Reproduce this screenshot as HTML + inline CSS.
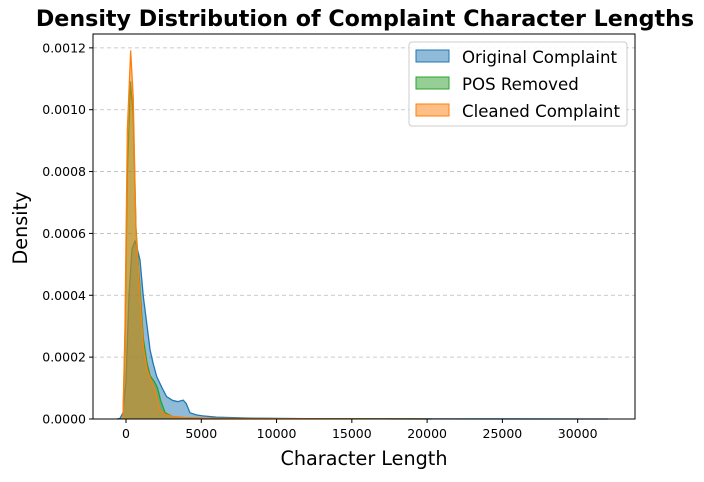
<!DOCTYPE html>
<html><head><meta charset="utf-8"><style>
body{margin:0;background:#fff;font-family:"Liberation Sans","DejaVu Sans",sans-serif}
svg text{font-family:"DejaVu Sans","Liberation Sans",sans-serif}
</style></head><body>
<svg id="chart" width="704" height="477" viewBox="0 0 704 477">
<text x="365" y="26" text-anchor="middle" font-size="22.2" font-weight="bold">Density Distribution of Complaint Character Lengths</text>
<g id="grid"></g>
<g id="series"></g>
<rect x="93" y="34" width="542" height="385" fill="none" stroke="#000" stroke-width="1"/>
<g id="xticks"></g><g id="yticks"></g>
<text x="364" y="465" text-anchor="middle" font-size="19.2">Character Length</text>
<text transform="translate(27,228) rotate(-90)" text-anchor="middle" font-size="19.2">Density</text>
<g>
<rect x="409" y="42" width="218" height="84" rx="3" fill="#fff" fill-opacity="0.85" stroke="#ccc"/>
<g><rect x="416" y="50" width="33" height="12" fill="#1f77b4" fill-opacity="0.5" stroke="#1f77b4"/><text x="462" y="63" font-size="16.6">Original Complaint</text></g>
<g><rect x="416" y="77" width="33" height="12" fill="#2ca02c" fill-opacity="0.5" stroke="#2ca02c"/><text x="462" y="90" font-size="16.6">POS Removed</text></g>
<g><rect x="416" y="104" width="33" height="12" fill="#ff7f0e" fill-opacity="0.5" stroke="#ff7f0e"/><text x="462" y="117" font-size="16.6">Cleaned Complaint</text></g>
</g>
</svg>
<script>
const xTicks=[0,5000,10000,15000,20000,25000,30000];
const yTicks=[0,0.0002,0.0004,0.0006,0.0008,0.0010,0.0012];
const yTickLabels=["0.0000","0.0002","0.0004","0.0006","0.0008","0.0010","0.0012"];
const origX=[-600,-400,-200,0,200,400,600,800,930,1150,1400,1600,1800,2040,2400,2700,3100,3450,3800,4000,4250,4700,5100,6000,8000,12000,20000,32000];
const origY=[0,0.000002,0.00002,0.00012,0.0004,0.00055,0.000576,0.00054,0.000514,0.000396,0.0003,0.000223,0.00018,0.000137,0.0001,0.000072,0.00006,0.000056,0.000061,0.00005,0.00002,0.000013,0.00001,0.000006,0.000003,0.000001,0.0000005,0];
const posX=[-300,-200,-70,90,300,480,660,930,1150,1400,1600,1900,2100,2300,2600,3100,4000,6000,10000,20300];
const posY=[0,0.000005,0.00025,0.0008,0.00109,0.00098,0.00062,0.00042,0.00026,0.00018,0.00014,0.00012,0.0001,0.00006,0.00002,0.000008,0.000004,0.000002,0.000001,0];
const cleanX=[-300,-200,-70,90,310,480,660,930,1150,1400,1600,1920,2250,2600,3100,4000,6000,10000,20000];
const cleanY=[0,0.000005,0.00029,0.000935,0.00119,0.00104,0.00061,0.000395,0.000234,0.00016,0.000132,0.000094,0.00003,0.000015,0.000008,0.000004,0.000002,0.000001,0];
const X0=-2192,X1=33808,Y0=0,Y1=0.0012448;
function sx(v){return 93+(v-X0)/(X1-X0)*542;}
function sy(v){return 419-(v-Y0)/(Y1-Y0)*385;}
const NS="http://www.w3.org/2000/svg";
const grid=document.getElementById('grid'),xt=document.getElementById('xticks'),yt=document.getElementById('yticks'),ser=document.getElementById('series');
yTicks.forEach((t,i)=>{
 if(i>0){const l=document.createElementNS(NS,'line');
 
 
 l.setAttribute('x1',93);l.setAttribute('x2',635);l.setAttribute('y1',sy(t));l.setAttribute('y2',sy(t));
 l.setAttribute('stroke','#bbb');l.setAttribute('stroke-dasharray','4,3');l.setAttribute('stroke-width','0.8');grid.appendChild(l);}
 const k=document.createElementNS(NS,'line');
 
 
 k.setAttribute('x1',89);k.setAttribute('x2',93);k.setAttribute('y1',sy(t));k.setAttribute('y2',sy(t));k.setAttribute('stroke','#000');yt.appendChild(k);
 const tx=document.createElementNS(NS,'text');
 
 
 tx.setAttribute('x',86);tx.setAttribute('y',sy(t)+4.5);tx.setAttribute('text-anchor','end');tx.setAttribute('font-size','12.5');tx.textContent=yTickLabels[i];yt.appendChild(tx);
});
xTicks.forEach(t=>{
 const k=document.createElementNS(NS,'line');
 
 
 k.setAttribute('x1',sx(t));k.setAttribute('x2',sx(t));k.setAttribute('y1',419);k.setAttribute('y2',423);k.setAttribute('stroke','#000');xt.appendChild(k);
 const tx=document.createElementNS(NS,'text');
 
 
 tx.setAttribute('x',sx(t));tx.setAttribute('y',438);tx.setAttribute('text-anchor','middle');tx.setAttribute('font-size','12.5');tx.textContent=t;xt.appendChild(tx);
});
function draw(xs,ys,color,name){
 let d='M'+sx(xs[0])+','+sy(0);
 xs.forEach((x,i)=>{d+=' L'+sx(x).toFixed(2)+','+sy(ys[i]).toFixed(2);});
 let line='M'+xs.map((x,i)=>sx(x).toFixed(2)+','+sy(ys[i]).toFixed(2)).join(' L');
 const a=document.createElementNS(NS,'path');
 
 
 a.setAttribute('d',d+' L'+sx(xs[xs.length-1])+','+sy(0)+' Z');a.setAttribute('fill',color);a.setAttribute('fill-opacity','0.5');ser.appendChild(a);
 const l=document.createElementNS(NS,'path');
 
 
 l.setAttribute('d',line);l.setAttribute('fill','none');l.setAttribute('stroke',color);l.setAttribute('stroke-width','1.3');l.setAttribute('stroke-linejoin','round');ser.appendChild(l);
}
draw(origX,origY,'#1f77b4','original-complaint');
draw(posX,posY,'#2ca02c','pos-removed');
draw(cleanX,cleanY,'#ff7f0e','cleaned-complaint');
</script>
</body></html>
